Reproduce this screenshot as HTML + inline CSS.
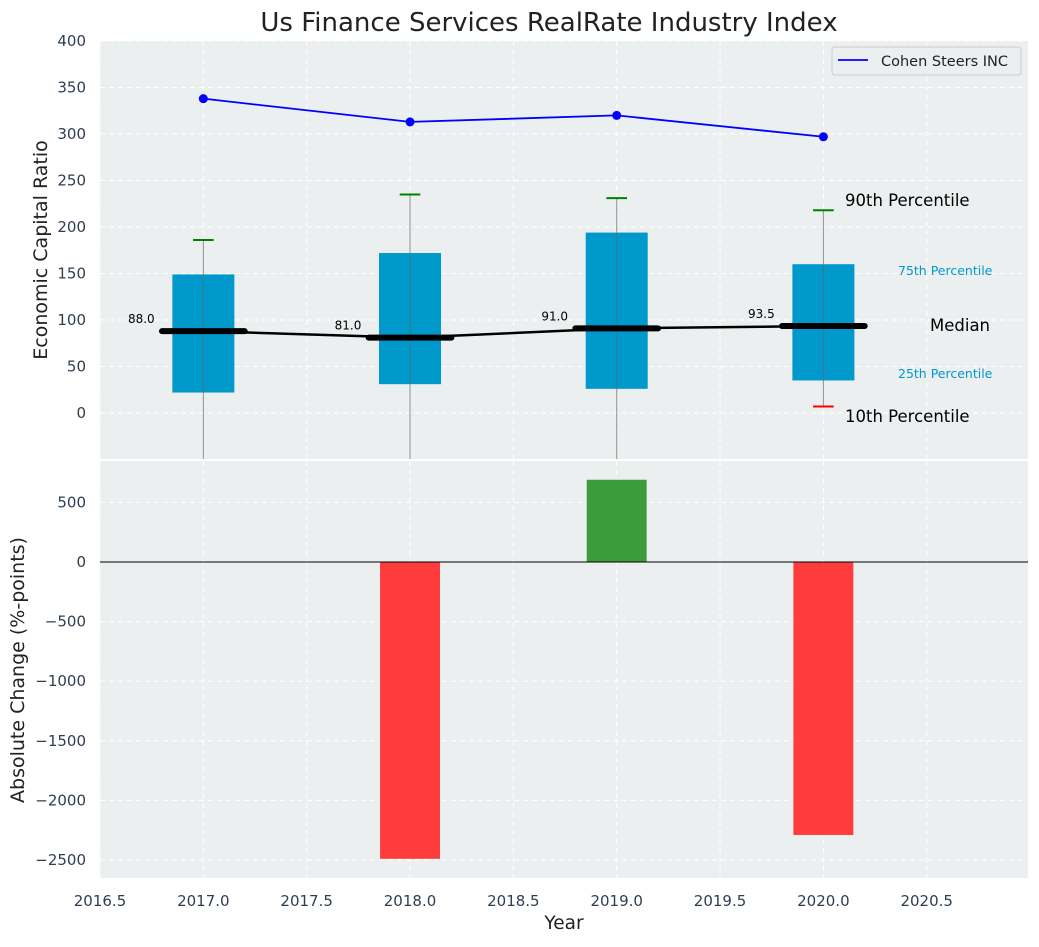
<!DOCTYPE html>
<html><head><meta charset="utf-8"><style>
body{margin:0;background:#fff;}
svg text{font-family:"DejaVu Sans","Liberation Sans",sans-serif;}
</style></head><body>
<svg id="c" width="1039" height="942" xmlns="http://www.w3.org/2000/svg"></svg>
<script>
const years=[2017,2018,2019,2020];
const p10=[-80,-80,-80,7];
const p25=[22,31,26,35];
const medians=[88,81,91,93.5];
const p75=[149,172,194,160];
const p90=[186,235,231,218];
const companyValues=[338,313,320,297];
const changes=[0,-2490,690,-2290];
const xTicks=[2016.5,2017,2017.5,2018,2018.5,2019,2019.5,2020,2020.5];
const topTicks=[0,50,100,150,200,250,300,350,400];
const botTicks=[-2500,-2000,-1500,-1000,-500,0,500];

const NS='http://www.w3.org/2000/svg';
const svg=document.getElementById('c');
const L=100,R=1028;
const T1=41,B1=459,T2=461,B2=878;
const x=v=>L+(v-2016.5)*(R-L)/(2020.99-2016.5);
const y1=v=>413-v*0.93;
const y2=v=>562-v*0.1192;
function el(t,a,name,txt){const e=document.createElementNS(NS,t);for(const k in a)e.setAttribute(k,a[k]);if(txt!==undefined)e.textContent=txt;svg.appendChild(e);return e;}
const clip=document.createElementNS(NS,'clipPath');clip.setAttribute('id','cp1');
const cr=document.createElementNS(NS,'rect');cr.setAttribute('x',L);cr.setAttribute('y',T1);cr.setAttribute('width',R-L);cr.setAttribute('height',B1-T1);clip.appendChild(cr);svg.appendChild(clip);

el('rect',{x:L,y:T1,width:R-L,height:B1-T1,fill:'#ebeff0'},'top-plot-area');
el('rect',{x:L,y:T2,width:R-L,height:B2-T2,fill:'#ebeff0'},'bottom-plot-area');
xTicks.forEach(t=>{
  el('line',{x1:x(t),x2:x(t),y1:T1,y2:B1,stroke:'#fff','stroke-dasharray':'5,4','stroke-width':1},'top-x-grid');
  el('line',{x1:x(t),x2:x(t),y1:T2,y2:B2,stroke:'#fff','stroke-dasharray':'5,4','stroke-width':1},'bottom-x-grid');
  el('text',{x:x(t),y:906,'font-size':15,fill:'#2e3e52','text-anchor':'middle'},'x-tick-label',t.toFixed(1));
});
topTicks.forEach(t=>{
  el('line',{x1:L,x2:R,y1:y1(t),y2:y1(t),stroke:'#fff','stroke-dasharray':'5,4'},'top-y-grid');
  el('text',{x:86,y:y1(t)+5,'font-size':15,fill:'#2e3e52','text-anchor':'end'},'top-y-tick-label',t);
});
botTicks.forEach(t=>{
  el('line',{x1:L,x2:R,y1:y2(t),y2:y2(t),stroke:'#fff','stroke-dasharray':'5,4'},'bottom-y-grid');
  el('text',{x:86,y:y2(t)+5,'font-size':15,fill:'#2e3e52','text-anchor':'end'},'bottom-y-tick-label',t<0?'\u2212'+(-t):t);
});
const g=document.createElementNS(NS,'g');g.setAttribute('clip-path','url(#cp1)');
function gel(t,a,name,txt){const e=el(t,a,name,txt);g.appendChild(e);return e;}
years.forEach((yr,i)=>{
  gel('rect',{x:x(yr-0.15),y:y1(p75[i]),width:x(yr+0.15)-x(yr-0.15),height:y1(p25[i])-y1(p75[i]),fill:'#0099cc'},'iqr-box');
  gel('line',{x1:x(yr),x2:x(yr),y1:y1(p90[i]),y2:y1(p10[i]),stroke:'#666','stroke-width':1,opacity:0.7},'whisker');
  gel('line',{x1:x(yr-0.05),x2:x(yr+0.05),y1:y1(p90[i]),y2:y1(p90[i]),stroke:'green','stroke-width':2},'p90-cap');
  gel('line',{x1:x(yr-0.05),x2:x(yr+0.05),y1:y1(p10[i]),y2:y1(p10[i]),stroke:'red','stroke-width':2},'p10-cap');
});
svg.appendChild(g);
el('polyline',{points:years.map((yr,i)=>x(yr)+','+y1(medians[i])).join(' '),fill:'none',stroke:'#000','stroke-width':2.5},'median-line');
years.forEach((yr,i)=>{
  el('line',{x1:x(yr-0.2),x2:x(yr+0.2),y1:y1(medians[i]),y2:y1(medians[i]),stroke:'#000','stroke-width':6,'stroke-linecap':'round'},'median-bar');
  el('text',{x:x(yr-0.3),y:y1(medians[i])-8,'font-size':12,fill:'#000','text-anchor':'middle'},'median-label',medians[i].toFixed(1));
});
el('polyline',{points:years.map((yr,i)=>x(yr)+','+y1(companyValues[i])).join(' '),fill:'none',stroke:'blue','stroke-width':1.8},'company-line');
years.forEach((yr,i)=>el('circle',{cx:x(yr),cy:y1(companyValues[i]),r:4.5,fill:'blue'},'company-point'));
el('text',{x:845,y:206,'font-size':16.5,fill:'#000'},'p90-annotation','90th Percentile');
el('text',{x:898,y:275,'font-size':12.5,fill:'#0099cc'},'p75-annotation','75th Percentile');
el('text',{x:930,y:331,'font-size':16.5,fill:'#000'},'median-annotation','Median');
el('text',{x:898,y:378,'font-size':12.5,fill:'#0099cc'},'p25-annotation','25th Percentile');
el('text',{x:845,y:422,'font-size':16.5,fill:'#000'},'p10-annotation','10th Percentile');
el('rect',{x:832,y:47,width:189,height:28,rx:3,fill:'#ebeff0',stroke:'#ccc'},'legend');
el('line',{x1:838,x2:868,y1:60,y2:60,stroke:'blue','stroke-width':1.8},'legend-swatch');
el('text',{x:881,y:66,'font-size':14.5,fill:'#222'},'legend-label','Cohen Steers INC');
years.forEach((yr,i)=>{
  const v=changes[i];if(v===0)return;
  el('rect',{x:x(yr-0.145),y:Math.min(y2(v),y2(0)),width:x(yr+0.145)-x(yr-0.145),height:Math.abs(y2(v)-y2(0)),fill:v>0?'#3c9c3c':'#ff3c3c'},'change-bar');
});
el('line',{x1:L,x2:R,y1:y2(0),y2:y2(0),stroke:'#000','stroke-width':1},'zero-line');
el('text',{x:549,y:31,'font-size':26,fill:'#222','text-anchor':'middle'},'chart-title','Us Finance Services RealRate Industry Index');
el('text',{x:47,y:250,'font-size':19,fill:'#222','text-anchor':'middle',transform:'rotate(-90 47 250)'},'top-y-axis-title','Economic Capital Ratio');
el('text',{x:24,y:670,'font-size':19,fill:'#222','text-anchor':'middle',transform:'rotate(-90 24 670)'},'bottom-y-axis-title','Absolute Change (%-points)');
el('text',{x:564,y:929,'font-size':18.5,fill:'#222','text-anchor':'middle'},'x-axis-title','Year');
</script>
</body></html>
